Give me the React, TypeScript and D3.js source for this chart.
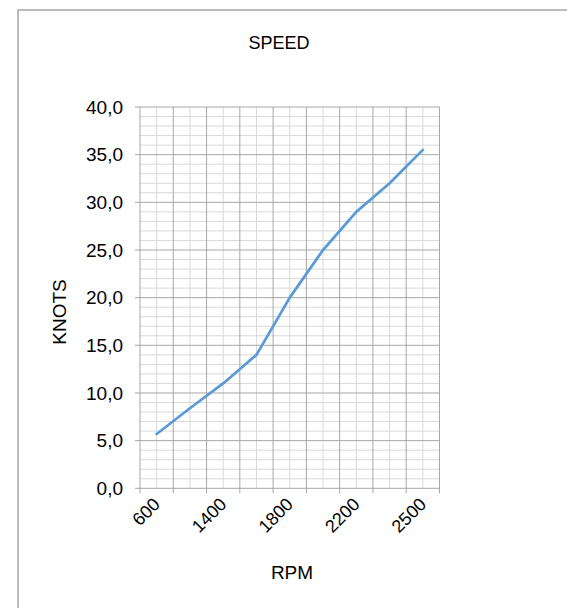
import React from "react";
import * as d3 from "d3";

const categories = ["600", "1000", "1400", "1600", "1800", "2000", "2200", "2400", "2500"];
const knots = [5.7, 8.4, 11.0, 14.0, 20.0, 25.0, 29.0, 32.0, 35.5];
const yMajorTicks = [0, 5, 10, 15, 20, 25, 30, 35, 40];
const labelEvery = 2;
const title = "SPEED";
const xTitle = "RPM";
const yTitle = "KNOTS";

const W = 567;
const H = 608;
const plot = { left: 140, right: 439.5, top: 107, bottom: 488.3 };
const font = "'Liberation Sans', Arial, sans-serif";

export default function App() {
  const x = d3.scaleBand<string>().domain(categories).range([plot.left, plot.right]).paddingInner(0).paddingOuter(0);
  const y = d3.scaleLinear().domain([0, 40]).range([plot.bottom, plot.top]);
  const cx = (c: string) => (x(c) as number) + x.bandwidth() / 2;
  const minorY = d3.range(0, 41, 1).filter((v) => v % 5 !== 0);
  const bounds = categories.map((c) => x(c) as number).concat([plot.right]);
  const line = d3
    .line<number>()
    .x((_, i) => cx(categories[i]))
    .y((d) => y(d));

  return (
    <svg width={W} height={H} style={{ position: "absolute", left: 0, top: 0, background: "#fff" }} fontFamily={font}>
      <rect x={0} y={0} width={W} height={H} fill="#fff" />
      <rect x={18} y={10} width={700} height={800} fill="none" stroke="#a6a6a6" strokeWidth={1.5} />
      {minorY.map((v) => (
        <line key={"my" + v} x1={plot.left} x2={plot.right} y1={y(v)} y2={y(v)} stroke="#d9d9d9" strokeWidth={1} />
      ))}
      {categories.map((c) => (
        <line key={"mx" + c} x1={cx(c)} x2={cx(c)} y1={plot.top} y2={plot.bottom} stroke="#d9d9d9" strokeWidth={1} />
      ))}
      {yMajorTicks.map((v) => (
        <line key={"Y" + v} x1={plot.left - 5} x2={plot.right} y1={y(v)} y2={y(v)} stroke="#a6a6a6" strokeWidth={1} />
      ))}
      {bounds.map((b, i) => (
        <line key={"X" + i} x1={b} x2={b} y1={plot.top} y2={plot.bottom + 5} stroke="#a6a6a6" strokeWidth={1} />
      ))}
      {yMajorTicks.map((v) => (
        <text key={"yl" + v} x={123} y={y(v)} dy="0.35em" textAnchor="end" fontSize={19} fill="#000">
          {d3.format(".1f")(v).replace(".", ",")}
        </text>
      ))}
      {categories.map((c, i) =>
        i % labelEvery === 0 ? (
          <text
            key={"xl" + c}
            x={cx(c)}
            y={501}
            textAnchor="end"
            dy="0.35em"
            fontSize={18}
            fill="#000"
            transform={`rotate(-45, ${cx(c)}, 501)`}
          >
            {c}
          </text>
        ) : null
      )}
      <path d={line(knots) || ""} fill="none" stroke="#5b9bd5" strokeWidth={2.75} strokeLinecap="round" strokeLinejoin="round" />
      <text x={279} y={43} dy="0.35em" textAnchor="middle" fontSize={18} fill="#000">
        {title}
      </text>
      <text x={292} y={572} dy="0.35em" textAnchor="middle" fontSize={19} fill="#000">
        {xTitle}
      </text>
      <text
        x={59}
        y={312}
        dy="0.35em"
        textAnchor="middle"
        fontSize={19}
        fill="#000"
        transform={`rotate(-90, 59, 312)`}
      >
        {yTitle}
      </text>
    </svg>
  );
}
